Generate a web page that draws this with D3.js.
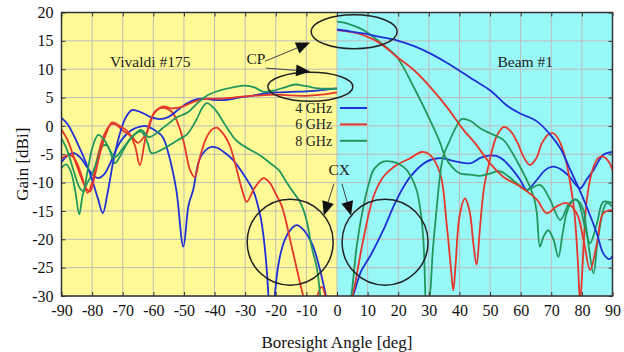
<!DOCTYPE html>
<html><head><meta charset="utf-8">
<script src="https://cdn.jsdelivr.net/npm/d3@7"></script>
<style>body{margin:0;background:#fff}svg{display:block;font-family:"Liberation Serif","Times New Roman",serif}</style>
</head><body><svg id="c" width="624" height="352"></svg>
<script>
// ---- data ----
const xTicks = [-90,-80,-70,-60,-50,-40,-30,-20,-10,0,10,20,30,40,50,60,70,80,90];
const yTicks = [-30,-25,-20,-15,-10,-5,0,5,10,15,20];
const legendLabels = ["4 GHz","6 GHz","8 GHz"];

// Vivaldi #175 (left half)
const vivBlueCP = [[-90,1.4],[-88,0.3],[-85,-2.8],[-82,-6.5],[-80,-9.5],[-78,-13],[-76.5,-15.4],[-75,-12],[-73,-6],[-71,-1.5],[-69,1.5],[-67,2.8],[-64,2.4],[-61,1.6],[-58,1.2],[-55,1.6],[-52,2.8],[-49,4],[-46,4.7],[-43,4.8],[-40,4.6],[-36,4.6],[-32,5],[-28,5.3],[-24,5.7],[-20,5.9],[-15,6],[-10,6.1],[-5,6.3],[0,6.6]];
const vivBlueCX = [[-90,-6.4],[-88,-5.2],[-86,-4.8],[-84,-5.5],[-82,-7],[-80,-8.5],[-78,-9.2],[-76,-8.5],[-74,-6.5],[-72,-4],[-70,-2.2],[-67,-0.7],[-64,-0.1],[-62.7,0],[-60,-0.6],[-57,-1.9],[-55,-5],[-52.5,-11.3],[-50.2,-21.3],[-48.5,-14],[-47,-11.3],[-45,-6],[-43,-4.3],[-41,-3.7],[-39,-3.9],[-37,-4.6],[-34,-6],[-30,-9],[-27.3,-11.5],[-25,-16],[-24,-19.5],[-23,-25],[-22.3,-31],[null,null],[-20.5,-31],[-19,-24],[-17,-20],[-15,-18.2],[-13.2,-17.5],[-11,-18.3],[-8,-21],[-5.5,-25.5],[-3.4,-30.5]];
const vivRedCP = [[-90,-0.7],[-88,-2.5],[-86,-5.5],[-84,-8.5],[-82,-11],[-80.7,-11.6],[-79,-8.5],[-77,-4],[-75,-0.8],[-73.5,0.6],[-71,0],[-68,-1.2],[-66,-3.5],[-64.4,-6.9],[-62.5,-2],[-60,2],[-57,3.4],[-54,3.1],[-51,3.3],[-48,4],[-45,4.6],[-42,4.8],[-38,4.8],[-34,5],[-30,5.2],[-25,5.4],[-20,5.5],[-15,5.4],[-10,5.3],[-5,5.5],[0,5.9]];
const vivRedCX = [[-90,-5.7],[-88,-5.2],[-86.5,-5.3],[-85,-6.5],[-83,-9.5],[-81.5,-11.8],[-80,-10],[-78,-5],[-76,-1.5],[-74,0.2],[-72.5,0.3],[-70,-0.8],[-67,-1.9],[-65,-3],[-62,-1],[-59.5,2.5],[-57,3.2],[-54,2.5],[-52,0.5],[-50,-3],[-48,-7.8],[-46.5,-9],[-45,-6],[-43,-2.5],[-41,-0.7],[-39.3,-0.3],[-37,-1.5],[-35,-3.5],[-33.3,-6.6],[-31,-11.3],[-29.5,-13.4],[-27,-11],[-24,-9.2],[-22,-10],[-20,-12],[-18,-14.2],[-14.8,-21.3],[-11.5,-29],[-10.5,-31],[null,null],[-7,-31],[-5,-28.4],[-3.4,-31]];
const vivGreenCP = [[-90,-2.2],[-88,-4.5],[-86,-8],[-84,-11],[-83,-11.5],[-81.5,-8],[-80,-4],[-78,-1.6],[-76,-2.5],[-74,-4.5],[-72.5,-5.5],[-70,-4],[-67,-2],[-64,-0.7],[-61.5,-2],[-59,-1.3],[-56,0],[-52,1.6],[-49,2.3],[-45,4.3],[-42,5.5],[-38,6.3],[-34,6.8],[-30,7.1],[-27,6.8],[-24,6],[-21,6.2],[-17,6.8],[-13.7,7.3],[-10,7],[-6,6.6],[0,6.6]];
const vivGreenCX = [[-90,-7.4],[-88.5,-6.8],[-87,-8],[-85.5,-11.5],[-84.2,-15.6],[-83,-12],[-81.5,-10],[-80,-8.5],[-78,-5.5],[-76.5,-3.5],[-75,-3.5],[-73.5,-5.5],[-72.5,-6.6],[-71,-5.5],[-69,-3.5],[-67,-1.9],[-64,-1],[-62,-2.8],[-60.6,-4.8],[-58,-4.4],[-55,-3.5],[-52,-2.5],[-49,-1.5],[-46,1],[-44,3.2],[-42.5,4],[-40,3],[-37.5,1],[-35.5,-0.7],[-33,-2.5],[-30,-3.7],[-27,-4.6],[-24.6,-5.4],[-22,-6.5],[-19,-7.8],[-17,-9.5],[-14.8,-11.3],[-12,-13.5],[-10,-16.5],[-8.3,-21.3],[-6.6,-25],[-5.3,-31]];

// Beam #1 (right half)
const beamBlueCP = [[0,17],[4,16.7],[8.6,16.3],[14,15.7],[19.5,15.1],[25,14.1],[30.4,12.8],[36,11.1],[41.3,9.3],[45,8],[50,6.3],[55.5,3.6],[59.8,2.2],[65.3,0.8],[69.6,-1.5],[73,-4],[76,-7.5],[79,-11],[81.6,-14.3],[84.9,-19],[87,-22.5],[89,-23.5],[90,-23]];
const beamRedCP = [[0,16.9],[4,16.6],[8.6,16],[14,14.6],[19.5,12.2],[25,9.9],[30.4,6.9],[35.8,3.4],[41.3,-0.7],[45,-3],[50,-6.6],[54.4,-9],[59.8,-10.7],[65.3,-13],[68.5,-15.4],[71.8,-14.2],[75,-13.6],[78.3,-15.4],[80.5,-20],[82.7,-25.4],[84.9,-20.7],[87,-15.4],[90,-14.8]];
const beamGreenCP = [[0,18.4],[3.2,18.1],[8.6,16.9],[15.1,14.3],[19.5,12.2],[25,6.9],[30.4,1],[33.7,-3],[35.3,-5.4],[37.5,-7.2],[40.2,-8.4],[43.5,-8.6],[46.7,-8.8],[50,-8.4],[53.3,-8],[58.7,-10.1],[62,-11.3],[66.3,-10.4],[69.6,-13],[72.9,-16.6],[76,-13.6],[78.3,-13],[81,-17.8],[82.7,-20.7],[84.9,-17.2],[87,-13.4],[90,-13.6]];
const beamBlueCX = [[4.5,-31],[5.5,-29.5],[8,-25.5],[10.8,-23],[15.1,-18.4],[19.5,-13],[23.9,-9],[29.3,-6.3],[33.7,-5.7],[39,-6.3],[43.5,-6.6],[47,-5.6],[50,-5.2],[52,-5.3],[54.4,-6],[57,-7.5],[59.8,-9.5],[62,-11.3],[65.3,-9.5],[68,-7.8],[70.7,-7.2],[73.5,-7.8],[76,-9],[79.4,-11],[81.5,-9.5],[83.8,-7.8],[87,-5.1],[90,-4.6]];
const beamRedCX = [[4.5,-31],[5.3,-29.5],[8.6,-20],[11.9,-12.5],[15.1,-9],[19.5,-6.9],[23.9,-5.7],[27.7,-4.6],[30.4,-5.1],[33.7,-8.4],[35.8,-17.2],[37.2,-25],[38,-29],[38.8,-24],[40,-16],[41.8,-12.8],[43.3,-15],[44.6,-21],[45.6,-24.5],[46.7,-18],[48,-11],[49.5,-7],[52,-2],[54.4,-0.2],[56.5,-0.8],[59,-3],[61,-5.5],[63,-6.9],[65,-5.8],[67,-3],[69,-1.5],[70.7,-1.3],[72.5,-2.5],[74.5,-5.5],[76,-9.5],[77.5,-15],[78.7,-24],[79.4,-31],[80.3,-24],[81.6,-13],[83.8,-7.2],[85.5,-5.6],[87,-5.4],[89,-6.5],[90,-7.8]];
const beamGreenCX = [[4.3,-31],[4.8,-29.5],[6.5,-21],[8.6,-14.3],[10.5,-10],[11.9,-7.8],[15.1,-6.3],[17.9,-6.3],[20.5,-6.8],[22.8,-7.8],[24.5,-9.3],[26,-11.3],[27.3,-15],[28.2,-20],[28.6,-25],[28.9,-31],[null,null],[29.8,-31],[30.4,-29.5],[31.3,-22],[32.6,-14.3],[33.6,-9],[34.7,-5.4],[36.9,-2.5],[38.8,-0.3],[40.7,1.2],[43.5,0.9],[47,-0.5],[50,-1.3],[54.4,-2.5],[57,-4.5],[59.8,-7.2],[63,-10.7],[64.5,-13],[65.3,-15.5],[66.3,-21.3],[67.5,-19.5],[69,-18.4],[70.7,-20],[72.3,-23.1],[73.7,-19],[75,-15.4],[76.5,-13.5],[77.8,-13],[79.2,-13.5],[80.5,-14.8],[81.3,-17.5],[82.1,-20.7],[83.8,-26],[85,-21],[85.9,-17.8],[87,-14.8],[88.1,-13.6],[89.8,-14.2]];

const colors = {b:"#1f30d6", r:"#e5362b", g:"#21975d"};
const series = [
  {d:vivBlueCX,c:colors.b},{d:vivRedCX,c:colors.r},{d:vivGreenCX,c:colors.g},
  {d:vivBlueCP,c:colors.b},{d:vivRedCP,c:colors.r},{d:vivGreenCP,c:colors.g},
  {d:beamBlueCX,c:colors.b},{d:beamRedCX,c:colors.r},{d:beamGreenCX,c:colors.g},
  {d:beamGreenCP,c:colors.g},{d:beamRedCP,c:colors.r},{d:beamBlueCP,c:colors.b}
];

// ---- drawing ----
const svg = d3.select("#c");
const L=61.5, R=612.5, T=12.5, B=296;
const x = d3.scaleLinear().domain([-90,90]).range([L,R]);
const y = d3.scaleLinear().domain([-30,20]).range([B,T]);

svg.append("rect").attr("x",x(-90)).attr("y",T).attr("width",x(0)-x(-90)).attr("height",B-T).attr("fill","#fffa96");
svg.append("rect").attr("x",x(0)).attr("y",T).attr("width",x(90)-x(0)).attr("height",B-T).attr("fill","#98f8f8");

const grid = svg.append("g").attr("stroke","#bdbdb8").attr("stroke-width",1);
xTicks.forEach(t=>grid.append("line").attr("x1",x(t)).attr("x2",x(t)).attr("y1",T).attr("y2",B));
yTicks.forEach(t=>grid.append("line").attr("y1",y(t)).attr("y2",y(t)).attr("x1",L).attr("x2",R));

svg.append("defs").append("clipPath").attr("id","clip").append("rect").attr("x",L).attr("y",T).attr("width",R-L).attr("height",B-T);

const line = d3.line().defined(d=>d[0]!==null).x(d=>x(d[0])).y(d=>y(d[1])).curve(d3.curveCatmullRom.alpha(0.5));
const lg = svg.append("g").attr("clip-path","url(#clip)");
series.forEach(s=>lg.append("path").attr("d",line(s.d)).attr("fill","none").attr("stroke",s.c).attr("stroke-width",1.8).attr("stroke-linejoin","round"));

// axes
const fs = "16px";
const fmt = d => String(d);
const ax = svg.append("g").attr("transform",`translate(0,${B})`).call(d3.axisBottom(x).tickValues(xTicks).tickFormat(fmt).tickSizeInner(-4).tickSizeOuter(0).tickPadding(9));
const ay = svg.append("g").attr("transform",`translate(${L},0)`).call(d3.axisLeft(y).tickValues(yTicks).tickFormat(fmt).tickSizeInner(-4).tickSizeOuter(0).tickPadding(8));
const at = svg.append("g").attr("transform",`translate(0,${T})`).call(d3.axisTop(x).tickValues(xTicks).tickSizeInner(-4).tickSizeOuter(0).tickFormat(""));
const ar = svg.append("g").attr("transform",`translate(${R},0)`).call(d3.axisRight(y).tickValues(yTicks).tickSizeInner(-4).tickSizeOuter(0).tickFormat(""));
[ax,ay,at,ar].forEach(g=>{g.select(".domain").remove();g.selectAll("line").attr("stroke","#333");g.selectAll("text").attr("font-family",'"Liberation Serif",serif').attr("font-size",fs).attr("fill","#111");});
ax.selectAll("text").attr("dy","0.71em");
svg.append("rect").attr("x",L).attr("y",T).attr("width",R-L).attr("height",B-T).attr("fill","none").attr("stroke","#333").attr("stroke-width",1.5);

// titles
svg.append("text").attr("x",(L+R)/2).attr("y",348).attr("text-anchor","middle").attr("font-size","17px").attr("fill","#111").text("Boresight Angle [deg]");
svg.append("text").attr("transform",`translate(28,${(T+B)/2+10}) rotate(-90)`).attr("text-anchor","middle").attr("font-size","17px").attr("fill","#111").text("Gain [dBi]");

svg.append("text").attr("x",x(-61)).attr("y",y(10.3)).attr("text-anchor","middle").attr("font-size","15.5px").attr("fill","#222").text("Vivaldi #175");
svg.append("text").attr("x",x(61.5)).attr("y",y(10.3)).attr("text-anchor","middle").attr("font-size","15.5px").attr("fill","#222").text("Beam #1");

// legend
const legColors=[colors.b,colors.r,colors.g];
const y0 = y(2.1) - 1, step = 16.4;
legendLabels.forEach((t,i)=>{
  const yy = y0 + i*step;
  svg.append("text").attr("x",x(-1.6)).attr("y",yy).attr("text-anchor","end").attr("font-size","14px").attr("fill","#222").text(t);
  svg.append("line").attr("x1",x(1)).attr("x2",x(9.8)).attr("y1",yy-5).attr("y2",yy-5).attr("stroke",legColors[i]).attr("stroke-width",2);
});

// annotations
const ann = svg.append("g").attr("stroke","#222").attr("fill","none").attr("stroke-width",1.5);
ann.append("ellipse").attr("cx",x(5.6)).attr("cy",y(16.6)).attr("rx",43).attr("ry",17);
ann.append("ellipse").attr("cx",x(-8.7)).attr("cy",y(6.9)).attr("rx",42.5).attr("ry",14.5);
ann.append("circle").attr("cx",x(-15.3)).attr("cy",y(-20.5)).attr("r",43);
ann.append("circle").attr("cx",x(15.7)).attr("cy",y(-20.5)).attr("r",43);

function arrow(x1,y1,x2,y2){
  const dx=x2-x1, dy=y2-y1, len=Math.hypot(dx,dy), ux=dx/len, uy=dy/len, hl=14, hw=6;
  const bx=x2-ux*hl, by=y2-uy*hl;
  svg.append("line").attr("x1",x1).attr("y1",y1).attr("x2",bx).attr("y2",by).attr("stroke","#444").attr("stroke-width",1);
  svg.append("path").attr("d",`M${x2},${y2}L${bx-uy*hw},${by+ux*hw}L${bx+uy*hw},${by-ux*hw}Z`).attr("fill","#111");
}
svg.append("text").attr("x",x(-29.6)).attr("y",y(11)).attr("font-size","15.5px").attr("fill","#222").text("CP");
arrow(x(-23.5),y(11.4),x(-8.8),y(14.7));
arrow(x(-23.2),y(10.2),x(-8.8),y(9.6));
svg.append("text").attr("x",x(-2.8)).attr("y",y(-8.7)).attr("font-size","15.5px").attr("fill","#222").text("CX");
arrow(x(-1),y(-10.2),x(-4.3),y(-15.8));
arrow(x(1.6),y(-10.2),x(4.6),y(-15.8));
</script></body></html>
